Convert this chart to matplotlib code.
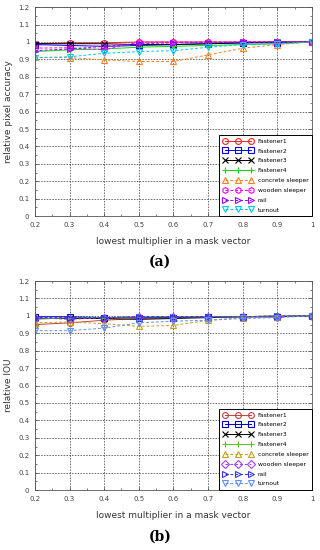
import matplotlib
matplotlib.use("Agg")
import matplotlib.pyplot as plt
from matplotlib.ticker import MultipleLocator

x = [0.2, 0.3, 0.4, 0.5, 0.6, 0.7, 0.8, 0.9, 1.0]
labels = ["Fastener1", "Fastener2", "Fastener3", "Fastener4",
          "concrete sleeper", "wooden sleeper", "rail", "turnout"]

# (a) relative pixel accuracy
acc_fastener1 = [0.99, 0.995, 0.995, 1.0, 1.0, 1.0, 1.0, 1.0, 1.0]
acc_fastener2 = [0.985, 0.98, 0.975, 0.98, 0.985, 0.99, 0.995, 0.995, 1.0]
acc_fastener3 = [0.99, 0.99, 0.99, 0.985, 0.985, 0.99, 0.995, 1.0, 1.0]
acc_fastener4 = [0.945, 0.955, 0.96, 0.97, 0.975, 0.98, 0.985, 0.99, 1.0]
acc_concrete = [0.912, 0.91, 0.897, 0.888, 0.888, 0.926, 0.964, 0.985, 1.0]
acc_wooden = [0.965, 0.967, 0.955, 1.0, 1.0, 1.0, 1.0, 1.0, 1.0]
acc_rail = [0.95, 0.96, 0.975, 0.99, 0.995, 0.995, 1.0, 1.0, 1.0]
acc_turnout = [0.91, 0.915, 0.935, 0.945, 0.95, 0.97, 0.985, 0.99, 1.0]

# (b) relative IOU
iou_fastener1 = [0.95, 0.96, 0.975, 0.985, 0.99, 0.995, 0.995, 1.0, 1.0]
iou_fastener2 = [0.995, 0.995, 0.99, 0.99, 0.99, 0.995, 0.995, 0.995, 1.0]
iou_fastener3 = [0.985, 0.985, 0.985, 0.98, 0.985, 0.99, 0.995, 0.995, 1.0]
iou_fastener4 = [0.98, 0.99, 0.99, 0.995, 0.995, 0.995, 0.995, 1.0, 1.0]
iou_concrete = [0.96, 0.965, 0.955, 0.94, 0.945, 0.975, 0.99, 0.995, 1.0]
iou_wooden = [0.99, 0.98, 0.99, 0.995, 0.995, 0.995, 0.995, 0.995, 1.0]
iou_rail = [0.99, 0.99, 0.99, 0.995, 0.995, 0.995, 0.995, 1.0, 1.0]
iou_turnout = [0.915, 0.915, 0.93, 0.96, 0.97, 0.975, 0.985, 0.99, 1.0]

acc_series = [acc_fastener1, acc_fastener2, acc_fastener3, acc_fastener4,
              acc_concrete, acc_wooden, acc_rail, acc_turnout]
iou_series = [iou_fastener1, iou_fastener2, iou_fastener3, iou_fastener4,
              iou_concrete, iou_wooden, iou_rail, iou_turnout]

styles_a = [("#ff2020", "o", "-"), ("#0000ff", "s", "-"), ("#000000", "x", "-"),
            ("#00dd00", "+", "-"), ("#ff8020", "^", "--"), ("#ff00ff", "h", "--"),
            ("#a000ff", ">", "--"), ("#00c8ff", "v", "--")]
styles_b = [("#c04040", "o", "-"), ("#0000cc", "s", "-"), ("#000000", "x", "-"),
            ("#60c020", "+", "-"), ("#c8a020", "^", "--"), ("#a040ff", "D", "--"),
            ("#3030ff", ">", "--"), ("#6090ff", "v", "--")]

fig = plt.figure(figsize=(3.2, 5.5), dpi=100)
ax1 = fig.add_axes([0.109, 0.607, 0.866, 0.38])
ax2 = fig.add_axes([0.109, 0.109, 0.866, 0.38])

def draw(ax, series, styles, ylabel):
    for s, (c, m, ls), lab in zip(series, styles, labels):
        ms = 5 if m in ("x", "+") else 4.2
        if m == "D":
            ms = 3.6
        ax.plot(x, s, color=c, marker=m, linestyle=ls, linewidth=0.7,
                markersize=ms, markerfacecolor="none", markeredgewidth=0.8,
                dashes=(3, 2) if ls == "--" else (None, None),
                label=lab)
    ax.set_xlim(0.2, 1.0)
    ax.set_ylim(0, 1.2)
    ax.xaxis.set_minor_locator(MultipleLocator(0.05))
    ax.yaxis.set_minor_locator(MultipleLocator(0.05))
    ax.set_xticks(x)
    ax.set_xticklabels(["0.2", "0.3", "0.4", "0.5", "0.6", "0.7", "0.8", "0.9", "1"])
    ax.set_yticks([i / 10 for i in range(13)])
    ax.set_yticklabels(["0", "0.1", "0.2", "0.3", "0.4", "0.5", "0.6", "0.7",
                        "0.8", "0.9", "1", "1.1", "1.2"])
    ax.tick_params(which="both", direction="in", labelsize=5, length=2.5,
                   width=0.5, colors="#444444", top=True, right=True, pad=4)
    ax.tick_params(which="minor", length=1.5)
    ax.grid(True, which="major", color="#222222", linestyle=(0, (2.5, 2.0)),
            linewidth=0.45)
    for sp in ax.spines.values():
        sp.set_color("#555555")
        sp.set_linewidth(0.6)
    ax.set_xlabel("lowest multiplier in a mask vector", fontsize=6.5,
                  color="#333333", labelpad=7)
    ax.set_ylabel(ylabel, fontsize=6.5, color="#333333", labelpad=4)
    leg = ax.legend(loc="lower right", fontsize=4.3, numpoints=3,
                    handlelength=5.0, borderaxespad=0.0, fancybox=False,
                    framealpha=1, edgecolor="black", labelspacing=0.78,
                    handletextpad=0.8, borderpad=0.6)
    leg.get_frame().set_linewidth(0.7)

draw(ax1, acc_series, styles_a, "relative pixel accuracy")
draw(ax2, iou_series, styles_b, "relative IOU")

fig.text(0.5, 1 - 262 / 550, "(a)", ha="center", va="center", fontsize=10,
         fontweight="bold", family="DejaVu Serif")
fig.text(0.5, 1 - 537 / 550, "(b)", ha="center", va="center", fontsize=10,
         fontweight="bold", family="DejaVu Serif")

fig.savefig("out.png", dpi=100)
